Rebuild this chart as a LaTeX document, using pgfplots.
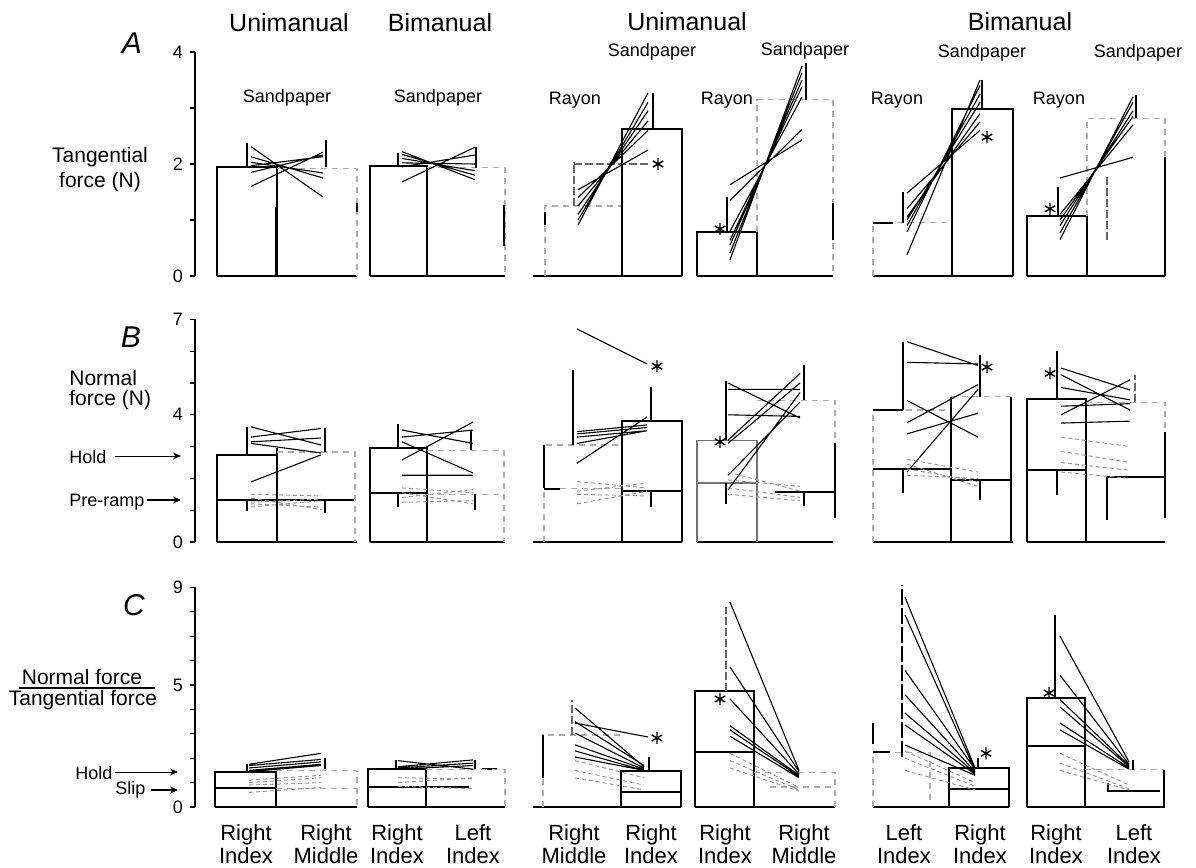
\documentclass[border=0pt]{standalone}
\usepackage{pgfplots}
\pgfplotsset{compat=1.18}
\usepackage{fontspec}
\setmainfont{Liberation Sans}
\usetikzlibrary{arrows.meta}

\pgfplotsset{
  rowaxis/.style={
    anchor=south west, x=0.5pt, xmin=195, xmax=1196, ymin=0,
    axis x line=none, axis y line=left,
    axis line style={-, line width=0.7pt},
    tick align=outside, major tick length=2.5pt,
    ytick style={black, line width=0.6pt},
    xtick=\empty, clip=false, unbounded coords=jump,
    tick label style={font=\fontsize{9}{10}\selectfont},
    /pgf/number format/assume math mode=true,
  },
  sbar/.style={black, line width=0.85pt},
  dbar/.style={black!32, line width=0.55pt, dash pattern=on 3pt off 2.5pt},
  ebar/.style={black, line width=0.8pt},
  debar/.style={black!60, line width=0.8pt, dash pattern=on 4pt off 1.5pt},
  subj/.style={black, line width=0.55pt},
  dsubj/.style={black!40, line width=0.5pt, dash pattern=on 2pt off 1.5pt},
  lvl/.style={black, line width=1pt},
  heavy/.style={black, line width=1.3pt},
  star/.style={only marks, mark=asterisk, mark size=3pt, mark options={black, line width=0.7pt}},
  baseln/.style={black, line width=0.9pt},
}

\begin{document}
\begin{tikzpicture}
\useasboundingbox (0pt,0pt) rectangle (598pt,-434pt);

% ---------------- A: tangential force ----------------
\begin{axis}[rowaxis, at={(97.5pt,-138pt)}, y=28pt, ymax=4,
  ytick={0,1,2,3,4}, yticklabels={0,,2,,4}]
% baselines
\addplot[baseln] coordinates {(217,0)(357,0) (nan,nan) (370,0)(505,0) (nan,nan) (533,0)(682,0) (nan,nan) (697,0)(833,0) (nan,nan) (873,0)(1013,0) (nan,nan) (1027,0)(1165,0)};
% unimanual, sandpaper
\addplot[sbar] coordinates {(217,0)(217,1.95)(277,1.95)(277,0)};
\addplot[dbar] coordinates {(277,1.92)(357,1.92)(357,0)};
\addplot[heavy] coordinates {(276.5,0)(276.5,1.23) (nan,nan) (357,1.15)(357,1.3)};
\addplot[ebar] coordinates {(247,1.95)(247,2.38) (nan,nan) (326,1.95)(326,2.43)};
\addplot[subj] coordinates {(251,2.31)(323,1.41) (nan,nan) (251,2.13)(323,1.75) (nan,nan) (251,2.03)(323,1.84) (nan,nan) (251,1.97)(323,2.13) (nan,nan) (251,1.85)(323,2.16) (nan,nan) (251,1.60)(323,2.21)};
% bimanual, sandpaper
\addplot[sbar] coordinates {(370,0)(370,1.97)(427,1.97)(427,0)};
\addplot[dbar] coordinates {(427,1.93)(505,1.93)(505,0)};
\addplot[ebar] coordinates {(504,0.54)(504,1.27) (nan,nan) (476,1.93)(476,2.3) (nan,nan) (398,1.97)(398,2.2)};
\addplot[subj] coordinates {(402,2.22)(475,1.72) (nan,nan) (402,2.17)(475,1.8) (nan,nan) (402,2.1)(475,1.88) (nan,nan) (402,2.02)(475,2.0) (nan,nan) (402,1.95)(475,2.16) (nan,nan) (402,1.68)(475,2.3)};
% unimanual, rayon -> sandpaper
\addplot[dbar] coordinates {(545,0)(545,1.25)(622,1.25)};
\addplot[ebar] coordinates {(545,0.91)(545,1.14)};
\addplot[sbar] coordinates {(622,0)(622,2.63)(682,2.63)(682,0)};
\addplot[ebar] coordinates {(653,2.63)(653,3.27)};
\addplot[debar] coordinates {(574,1.25)(574,2.04) (nan,nan) (574,2.0)(648,2.0)};
\addplot[subj] coordinates {(578,0.91)(648,3.27) (nan,nan) (578,1.0)(648,3.1) (nan,nan) (578,1.1)(648,2.95) (nan,nan) (578,1.25)(648,2.77) (nan,nan) (578,1.4)(648,2.6) (nan,nan) (578,1.54)(648,2.25)};
\addplot[star] coordinates {(658,2.0)};
% unimanual, rayon -> sandpaper (second pair)
\addplot[sbar] coordinates {(697,0)(697,0.79)(757,0.79)(757,0)};
\addplot[ebar] coordinates {(727,0.79)(727,1.41)};
\addplot[dbar] coordinates {(757,0.79)(757,3.15)(833,3.15)(833,0)};
\addplot[heavy] coordinates {(833,0.64)(833,1.3)};
\addplot[ebar] coordinates {(806,3.15)(806,3.8)};
\addplot[subj] coordinates {(730,0.29)(802,3.75) (nan,nan) (730,0.41)(802,3.63) (nan,nan) (730,0.55)(802,3.5) (nan,nan) (730,0.64)(802,3.38) (nan,nan) (730,0.8)(802,3.2) (nan,nan) (730,1.35)(802,2.62) (nan,nan) (730,1.63)(802,2.43)};
\addplot[star] coordinates {(720,0.84)};
% bimanual, rayon -> sandpaper
\addplot[dbar] coordinates {(873,0)(873,0.95)(952,0.95)};
\addplot[lvl] coordinates {(873,0.95)(893,0.95)};
\addplot[ebar] coordinates {(903,0.95)(903,1.5)};
\addplot[sbar] coordinates {(952,0)(952,2.98)(1013,2.98)(1013,0)};
\addplot[ebar] coordinates {(982,2.98)(982,3.5)};
\addplot[subj] coordinates {(907,0.38)(980,3.5) (nan,nan) (907,0.79)(980,3.4) (nan,nan) (907,0.9)(980,3.25) (nan,nan) (907,1.0)(980,3.1) (nan,nan) (907,1.05)(980,2.9) (nan,nan) (907,1.2)(980,2.75) (nan,nan) (907,1.48)(980,2.6)};
\addplot[star] coordinates {(987,2.48)};
% bimanual, rayon -> sandpaper (second pair)
\addplot[sbar] coordinates {(1027,0)(1027,1.07)(1087,1.07)(1087,0)};
\addplot[ebar] coordinates {(1058,1.07)(1058,1.59)};
\addplot[dbar] coordinates {(1087,1.07)(1087,2.82)(1165,2.82)(1165,2.12)};
\addplot[heavy] coordinates {(1165,0)(1165,2.12)};
\addplot[debar] coordinates {(1107,0.64)(1107,1.77)};
\addplot[ebar] coordinates {(1136,2.82)(1136,3.23)};
\addplot[subj] coordinates {(1060,0.65)(1133,3.2) (nan,nan) (1060,0.77)(1133,3.1) (nan,nan) (1060,0.9)(1133,2.95) (nan,nan) (1060,1.0)(1133,2.85) (nan,nan) (1060,1.1)(1133,2.7) (nan,nan) (1060,1.75)(1133,2.12)};
\addplot[star] coordinates {(1050,1.2)};
\end{axis}

% ---------------- B: normal force ----------------
\begin{axis}[rowaxis, at={(97.5pt,-271pt)}, y=15.9pt, ymax=7,
  ytick={0,1,2,3,4,5,6,7}, yticklabels={0,,,,4,,,7}]
\addplot[baseln] coordinates {(217,0)(357,0) (nan,nan) (370,0)(505,0) (nan,nan) (533,0)(682,0) (nan,nan) (697,0)(833,0) (nan,nan) (873,0)(1013,0) (nan,nan) (1027,0)(1165,0)};
% unimanual, sandpaper
\addplot[sbar] coordinates {(217,0)(217,2.74)(277,2.74)(277,0)};
\addplot[heavy] coordinates {(277,0)(277,2.96)};
\addplot[lvl] coordinates {(217,1.32)(354,1.32)};
\addplot[dbar] coordinates {(277,2.83)(355,2.83)(355,0)};
\addplot[ebar] coordinates {(247,2.74)(247,3.62) (nan,nan) (325,2.83)(325,3.58) (nan,nan) (247,1.32)(247,0.97) (nan,nan) (325,1.32)(325,0.9)};
\addplot[subj] coordinates {(251,3.62)(321,3.05) (nan,nan) (251,3.3)(321,3.57) (nan,nan) (251,3.15)(321,3.27) (nan,nan) (251,3.1)(321,2.8) (nan,nan) (251,1.89)(321,2.74)};
\addplot[dsubj] coordinates {(251,1.25)(321,1.35) (nan,nan) (251,1.2)(321,1.1) (nan,nan) (251,1.1)(321,1.3) (nan,nan) (251,1.38)(321,1.02) (nan,nan) (251,1.5)(321,1.45)};
% bimanual, sandpaper
\addplot[sbar] coordinates {(370,0)(370,2.96)(427,2.96)(427,0)};
\addplot[heavy] coordinates {(427,0)(427,2.96)};
\addplot[lvl] coordinates {(370,1.53)(427,1.53)};
\addplot[dbar] coordinates {(427,1.5)(505,1.5) (nan,nan) (427,2.88)(504,2.88)(504,0)};
\addplot[ebar] coordinates {(398,2.96)(398,3.7) (nan,nan) (471,2.88)(471,3.52) (nan,nan) (475,1.5)(475,1.0) (nan,nan) (398,1.53)(398,1.1)};
\addplot[subj] coordinates {(402,3.52)(473,3.1) (nan,nan) (402,3.3)(473,3.52) (nan,nan) (402,3.15)(473,2.17) (nan,nan) (402,2.58)(473,3.77) (nan,nan) (402,2.1)(473,2.1)};
\addplot[dsubj] coordinates {(402,1.7)(473,1.55) (nan,nan) (402,1.4)(473,1.65) (nan,nan) (402,1.25)(473,1.3) (nan,nan) (402,1.55)(473,1.2)};
% unimanual, rayon -> sandpaper
\addplot[dbar] coordinates {(544,0)(544,3.05)(622,3.05) (nan,nan) (560,1.67)(622,1.67)};
\addplot[ebar] coordinates {(544,1.7)(544,3.05) (nan,nan) (573,3.05)(573,5.4)};
\addplot[lvl] coordinates {(544,1.67)(560,1.67)};
\addplot[sbar] coordinates {(622,0)(622,3.8)(682,3.8)(682,0)};
\addplot[lvl] coordinates {(622,1.6)(682,1.6)};
\addplot[ebar] coordinates {(651,3.8)(651,4.87) (nan,nan) (651,1.6)(651,1.1)};
\addplot[subj] coordinates {(577,6.7)(647,5.6) (nan,nan) (577,3.47)(647,3.68) (nan,nan) (577,3.4)(647,3.6) (nan,nan) (577,3.3)(647,3.5) (nan,nan) (577,3.1)(647,3.5) (nan,nan) (577,2.48)(647,3.93)};
\addplot[dsubj] coordinates {(577,1.9)(647,1.7) (nan,nan) (577,1.6)(647,1.85) (nan,nan) (577,1.5)(647,1.45) (nan,nan) (577,1.2)(647,1.6)};
\addplot[star] coordinates {(657,5.53)};
% unimanual, rayon -> sandpaper (second pair)
\addplot[black!55, line width=0.7pt] coordinates {(697,0)(697,3.2)(757,3.2)(757,0) (nan,nan) (697,1.86)(757,1.86)};
\addplot[ebar] coordinates {(726,3.2)(726,5.06) (nan,nan) (726,1.86)(726,1.2)};
\addplot[dbar] coordinates {(757,4.45)(835,4.45)(835,3.1)};
\addplot[heavy] coordinates {(835,0.75)(835,3.1)};
\addplot[lvl] coordinates {(775,1.58)(835,1.58)};
\addplot[ebar] coordinates {(804,4.47)(804,5.57) (nan,nan) (804,1.58)(804,1.12)};
\addplot[subj] coordinates {(728,5.0)(800,3.9) (nan,nan) (728,4.8)(800,4.8) (nan,nan) (728,4.0)(800,3.95) (nan,nan) (728,3.2)(800,5.3) (nan,nan) (728,2.1)(800,4.4) (nan,nan) (728,1.64)(800,4.7) (nan,nan) (728,3.1)(800,5.0)};
\addplot[dsubj] coordinates {(728,2.2)(800,1.6) (nan,nan) (728,1.7)(800,1.4) (nan,nan) (728,1.5)(800,1.3) (nan,nan) (728,1.95)(800,1.75)};
\addplot[star] coordinates {(720,3.15)};
% bimanual, rayon -> sandpaper
\addplot[dbar] coordinates {(873,0)(873,4.15)(950,4.15)};
\addplot[lvl] coordinates {(873,4.15)(903,4.15) (nan,nan) (873,2.3)(950,2.3)};
\addplot[ebar] coordinates {(903,4.15)(903,6.3) (nan,nan) (903,2.3)(903,1.55)};
\addplot[sbar] coordinates {(951,0)(951,4.57) (nan,nan) (1011,4.57)(1011,0)};
\addplot[dbar] coordinates {(951,4.57)(1011,4.57)};
\addplot[lvl] coordinates {(951,1.95)(1011,1.95)};
\addplot[ebar] coordinates {(980,4.57)(980,5.88) (nan,nan) (980,1.95)(980,1.32)};
\addplot[subj] coordinates {(907,6.3)(978,5.55) (nan,nan) (907,5.65)(978,5.6) (nan,nan) (907,4.45)(978,3.3) (nan,nan) (907,3.75)(978,4.95) (nan,nan) (907,3.4)(978,4.05) (nan,nan) (907,2.2)(978,4.8)};
\addplot[dsubj] coordinates {(907,2.6)(978,2.2) (nan,nan) (907,2.3)(978,1.9) (nan,nan) (907,2.1)(978,2.0) (nan,nan) (907,2.45)(978,1.75)};
\addplot[star] coordinates {(987,5.5)};
% bimanual, rayon -> sandpaper (second pair)
\addplot[sbar] coordinates {(1027,0)(1027,4.5)(1086,4.5)(1086,0)};
\addplot[lvl] coordinates {(1027,2.26)(1086,2.26)};
\addplot[ebar] coordinates {(1057,4.5)(1057,6.0) (nan,nan) (1057,2.26)(1057,1.48)};
\addplot[dbar] coordinates {(1086,4.4)(1165,4.4)(1165,3.46)};
\addplot[heavy] coordinates {(1165,0.75)(1165,3.46) (nan,nan) (1086,0)(1165,0)};
\addplot[lvl] coordinates {(1107,0.7)(1107,2.05)(1165,2.05)};
\addplot[debar] coordinates {(1135,4.4)(1135,5.25)};
\addplot[subj] coordinates {(1061,5.47)(1130,4.78) (nan,nan) (1061,5.26)(1130,4.15) (nan,nan) (1061,4.86)(1130,4.47) (nan,nan) (1061,4.0)(1130,5.1) (nan,nan) (1061,4.27)(1130,4.35) (nan,nan) (1061,3.74)(1130,3.8)};
\addplot[dsubj] coordinates {(1061,3.3)(1130,3.0) (nan,nan) (1061,2.85)(1130,2.5) (nan,nan) (1061,2.5)(1130,2.25) (nan,nan) (1061,2.2)(1130,2.0)};
\addplot[star] coordinates {(1050,5.3)};
\end{axis}

% ---------------- C: normal / tangential force ----------------
\begin{axis}[rowaxis, at={(97.5pt,-403.5pt)}, y=12.2pt, ymax=9,
  ytick={0,1,2,3,4,5,6,7,8,9}, yticklabels={0,,,,,5,,,,9}]
\addplot[baseln] coordinates {(215,0)(357,0) (nan,nan) (368,0)(505,0) (nan,nan) (533,0)(681,0) (nan,nan) (695,0)(835,0) (nan,nan) (873,0)(1009,0) (nan,nan) (1027,0)(1165,0)};
% unimanual, sandpaper
\addplot[sbar] coordinates {(215,0)(215,1.43)(276,1.43)(276,0)};
\addplot[heavy] coordinates {(276,0)(276,1.43)};
\addplot[lvl] coordinates {(215,0.77)(276,0.77)};
\addplot[dbar] coordinates {(276,0.77)(357,0.77) (nan,nan) (276,1.5)(357,1.5)(357,0)};
\addplot[ebar] coordinates {(247,1.43)(247,1.78) (nan,nan) (325,1.57)(325,2.0)};
\addplot[subj] coordinates {(249,1.75)(321,2.2) (nan,nan) (249,1.7)(321,1.95) (nan,nan) (249,1.6)(321,1.85) (nan,nan) (249,1.5)(321,1.75) (nan,nan) (249,1.45)(321,1.7)};
\addplot[dsubj] coordinates {(249,1.1)(321,1.3) (nan,nan) (249,1.0)(321,1.2) (nan,nan) (249,0.9)(321,1.0) (nan,nan) (249,0.6)(321,0.8)};
% bimanual, sandpaper
\addplot[sbar] coordinates {(368,0)(368,1.55)(426,1.55)(426,0)};
\addplot[lvl] coordinates {(368,0.82)(469,0.82) (nan,nan) (482,1.55)(497,1.55)};
\addplot[dbar] coordinates {(426,1.55)(505,1.55)(505,0)};
\addplot[ebar] coordinates {(396,1.55)(396,1.93) (nan,nan) (475,1.55)(475,1.93)};
\addplot[subj] coordinates {(398,1.9)(473,1.55) (nan,nan) (398,1.65)(473,1.93) (nan,nan) (398,1.6)(473,1.8) (nan,nan) (398,1.55)(473,1.7)};
\addplot[dsubj] coordinates {(398,1.2)(473,1.15) (nan,nan) (398,1.0)(473,1.2) (nan,nan) (398,0.85)(473,0.75)};
% unimanual, rayon -> sandpaper
\addplot[dbar] coordinates {(543,0)(543,2.95)(621,2.95)};
\addplot[ebar] coordinates {(543,1.2)(543,2.95)};
\addplot[debar] coordinates {(572,2.95)(572,4.38)};
\addplot[sbar] coordinates {(621,0)(621,1.48)(681,1.48)(681,0)};
\addplot[lvl] coordinates {(621,0.62)(681,0.62)};
\addplot[ebar] coordinates {(649,1.48)(649,2.05)};
\addplot[subj] coordinates {(575,4.06)(644,1.65) (nan,nan) (575,3.44)(648,2.87) (nan,nan) (575,3.5)(644,1.7) (nan,nan) (575,3.03)(644,1.6) (nan,nan) (575,2.55)(644,1.55) (nan,nan) (575,2.3)(644,1.5) (nan,nan) (575,2.05)(644,1.5)};
\addplot[dsubj] coordinates {(575,1.9)(644,1.2) (nan,nan) (575,1.5)(644,0.9) (nan,nan) (575,1.2)(644,0.7)};
\addplot[star] coordinates {(657,2.83)};
% unimanual, rayon -> sandpaper (second pair)
\addplot[sbar] coordinates {(695,0)(695,4.75)(754,4.75)(754,0)};
\addplot[lvl] coordinates {(695,2.25)(754,2.25)};
\addplot[debar] coordinates {(726,4.75)(726,8.2)};
\addplot[dbar] coordinates {(754,1.43)(835,1.43)(835,0) (nan,nan) (770,0.82)(835,0.82)};
\addplot[subj] coordinates {(730,8.4)(799,1.5) (nan,nan) (730,5.74)(799,1.45) (nan,nan) (730,4.43)(799,1.35) (nan,nan) (730,3.33)(799,1.3) (nan,nan) (730,3.16)(799,1.25) (nan,nan) (730,2.9)(799,1.2)};
\addplot[dsubj] coordinates {(730,2.2)(799,0.8) (nan,nan) (730,1.9)(799,0.7) (nan,nan) (730,1.6)(799,0.65)};
\addplot[star] coordinates {(720,4.43)};
% bimanual, rayon -> sandpaper
\addplot[dbar] coordinates {(873,0)(873,2.25)(930,2.25)(930,0.3)};
\addplot[ebar] coordinates {(873,2.6)(873,3.44) (nan,nan) (873,2.25)(890,2.25)};
\addplot[black, line width=1.3pt, dash pattern=on 8pt off 1.5pt] coordinates {(902,2.05)(902,9.1)};
\addplot[sbar] coordinates {(949,0)(949,1.6)(1009,1.6)(1009,0)};
\addplot[lvl] coordinates {(949,0.74)(1009,0.74)};
\addplot[ebar] coordinates {(978,1.6)(978,2.0)};
\addplot[subj] coordinates {(905,8.6)(975,1.6) (nan,nan) (905,7.87)(975,1.5) (nan,nan) (905,5.6)(975,1.55) (nan,nan) (905,4.6)(975,1.45) (nan,nan) (905,3.85)(975,1.4) (nan,nan) (905,3.36)(975,1.35) (nan,nan) (905,2.54)(975,1.3)};
\addplot[dsubj] coordinates {(905,2.3)(975,1.0) (nan,nan) (905,2.0)(975,0.85) (nan,nan) (905,1.5)(975,0.7)};
\addplot[star] coordinates {(986,2.2)};
% bimanual, rayon -> sandpaper (second pair)
\addplot[sbar] coordinates {(1027,0)(1027,4.47)(1085,4.47)(1085,0)};
\addplot[lvl] coordinates {(1027,2.5)(1085,2.5)};
\addplot[black, line width=1.1pt] coordinates {(1055,4.47)(1055,7.87)};
\addplot[dbar] coordinates {(1085,1.52)(1164,1.52)};
\addplot[sbar] coordinates {(1164,0)(1164,1.52)};
\addplot[lvl] coordinates {(1108,1.0)(1108,0.66)(1160,0.66)};
\addplot[ebar] coordinates {(1133,1.52)(1133,1.93)};
\addplot[subj] coordinates {(1060,7.0)(1129,1.85) (nan,nan) (1060,5.4)(1129,1.75) (nan,nan) (1060,4.4)(1129,1.7) (nan,nan) (1060,4.1)(1129,1.65) (nan,nan) (1060,3.44)(1129,1.6) (nan,nan) (1060,3.16)(1129,1.55)};
\addplot[dsubj] coordinates {(1060,2.2)(1129,0.9) (nan,nan) (1060,1.8)(1129,0.75) (nan,nan) (1060,1.5)(1129,0.7)};
\addplot[star] coordinates {(1049,4.67)};
\end{axis}

% ---------------- labels ----------------
\begin{scope}[x=0.5pt, y=-0.5pt]
\begin{scope}[font=\fontsize{12.5}{14}\selectfont]
\node at (289,23) {Unimanual};
\node at (440,23) {Bimanual};
\node at (687,22) {Unimanual};
\node at (1020,22) {Bimanual};
\end{scope}
\begin{scope}[font=\fontsize{9}{10}\selectfont]
\node at (287,98) {Sandpaper};
\node at (438,98) {Sandpaper};
\node at (652,52) {Sandpaper};
\node at (805,51) {Sandpaper};
\node at (982,53) {Sandpaper};
\node at (1138,53) {Sandpaper};
\node at (575,100) {Rayon};
\node at (727,100) {Rayon};
\node at (897,100) {Rayon};
\node at (1059,100) {Rayon};
\end{scope}
\begin{scope}[font=\fontsize{15}{17}\selectfont\itshape]
\node at (132,43) {A};
\node at (131,337) {B};
\node at (134,605) {C};
\end{scope}
\begin{scope}[font=\fontsize{10.5}{12}\selectfont]
\node at (100,157) {Tangential};
\node at (100,182) {force (N)};
\node[anchor=west, inner sep=0pt] at (69,378) {Normal};
\node[anchor=west, inner sep=0pt] at (69,400) {force (N)};
\node at (82,677) {Normal force};
\node at (83,700) {Tangential force};
\end{scope}
\draw[line width=0.6pt] (19,688) -- (155,688);
\begin{scope}[font=\fontsize{9}{10}\selectfont]
\node[anchor=west, inner sep=0pt] at (69,457) {Hold};
\node[anchor=west, inner sep=0pt] at (69,502) {Pre-ramp};
\node[anchor=west, inner sep=0pt] at (75,773) {Hold};
\node[anchor=west, inner sep=0pt] at (115,790) {Slip};
\end{scope}
\draw[line width=0.5pt, -{Stealth[length=4pt, width=3.5pt]}] (115,456) -- (181,456);
\draw[line width=1pt, -{Stealth[length=4pt, width=3.5pt]}] (147,500) -- (181,500);
\draw[line width=0.5pt, -{Stealth[length=4pt, width=3.5pt]}] (115,772) -- (178,772);
\draw[line width=1pt, -{Stealth[length=4pt, width=3.5pt]}] (151,790) -- (178,790);
\begin{scope}[font=\fontsize{11}{11.5}\selectfont, align=center]
\node at (246,844) {Right\\Index};
\node at (326,844) {Right\\Middle};
\node at (397,844) {Right\\Index};
\node at (473,844) {Left\\Index};
\node at (574,844) {Right\\Middle};
\node at (651,844) {Right\\Index};
\node at (725,844) {Right\\Index};
\node at (804,844) {Right\\Middle};
\node at (904,844) {Left\\Index};
\node at (980,844) {Right\\Index};
\node at (1056,844) {Right\\Index};
\node at (1134,844) {Left\\Index};
\end{scope}
\end{scope}
\end{tikzpicture}
\end{document}
